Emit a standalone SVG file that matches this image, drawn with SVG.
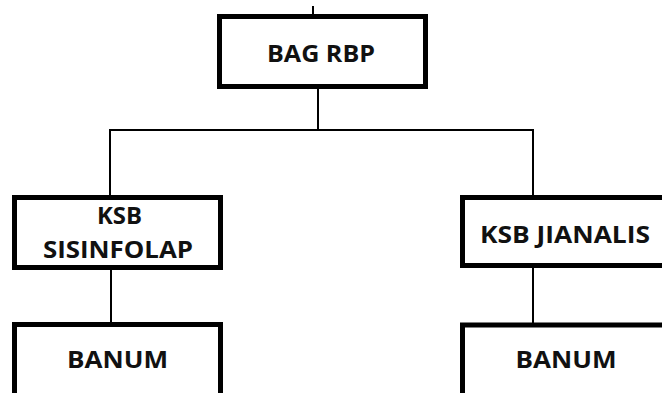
<svg xmlns="http://www.w3.org/2000/svg" width="662" height="393" viewBox="0 0 662 393">
  <style>
    .box { fill: #ffffff; stroke: #000000; stroke-width: 5; }
    .lbl { font-family: "Open Sans", "Liberation Sans", sans-serif; font-weight: bold; font-size: 23px; fill: #111111; text-anchor: middle; }
    .wire { fill: none; stroke: #000000; stroke-width: 2; }
  </style>
  <rect width="662" height="393" fill="#ffffff"/>

  <!-- connectors -->
  <g id="connectors">
    <line class="wire" x1="313" y1="6" x2="313" y2="15"/>
    <line class="wire" x1="318" y1="88" x2="318" y2="130"/>
    <line class="wire" x1="110" y1="130" x2="534" y2="130"/>
    <line class="wire" x1="110" y1="129" x2="110" y2="196"/>
    <line class="wire" x1="533" y1="129" x2="533" y2="196"/>
    <line class="wire" x1="111" y1="269" x2="111" y2="323"/>
    <line class="wire" x1="533" y1="267" x2="533" y2="323"/>
  </g>

  <g id="bag-rbp">
    <rect class="box" x="219.5" y="16.5" width="206" height="70"/>
    <text class="lbl" x="321" y="62" textLength="108" lengthAdjust="spacingAndGlyphs">BAG RBP</text>
  </g>

  <g id="ksb-sisinfolap">
    <rect class="box" x="14.5" y="197.5" width="206" height="70"/>
    <text class="lbl" x="119.5" y="224" textLength="45" lengthAdjust="spacingAndGlyphs">KSB</text>
    <text class="lbl" x="118" y="258" textLength="150" lengthAdjust="spacingAndGlyphs">SISINFOLAP</text>
  </g>

  <g id="ksb-jianalis">
    <rect class="box" x="462.5" y="197.5" width="206" height="68"/>
    <text class="lbl" x="565" y="243" textLength="170" lengthAdjust="spacingAndGlyphs">KSB JIANALIS</text>
  </g>

  <g id="banum-left">
    <rect class="box" x="14.5" y="324.5" width="206" height="80"/>
    <text class="lbl" x="117.5" y="368" textLength="101" lengthAdjust="spacingAndGlyphs">BANUM</text>
  </g>

  <g id="banum-right">
    <rect class="box" x="462.5" y="325" width="206" height="80"/>
    <text class="lbl" x="566" y="368" textLength="101" lengthAdjust="spacingAndGlyphs">BANUM</text>
  </g>
</svg>
